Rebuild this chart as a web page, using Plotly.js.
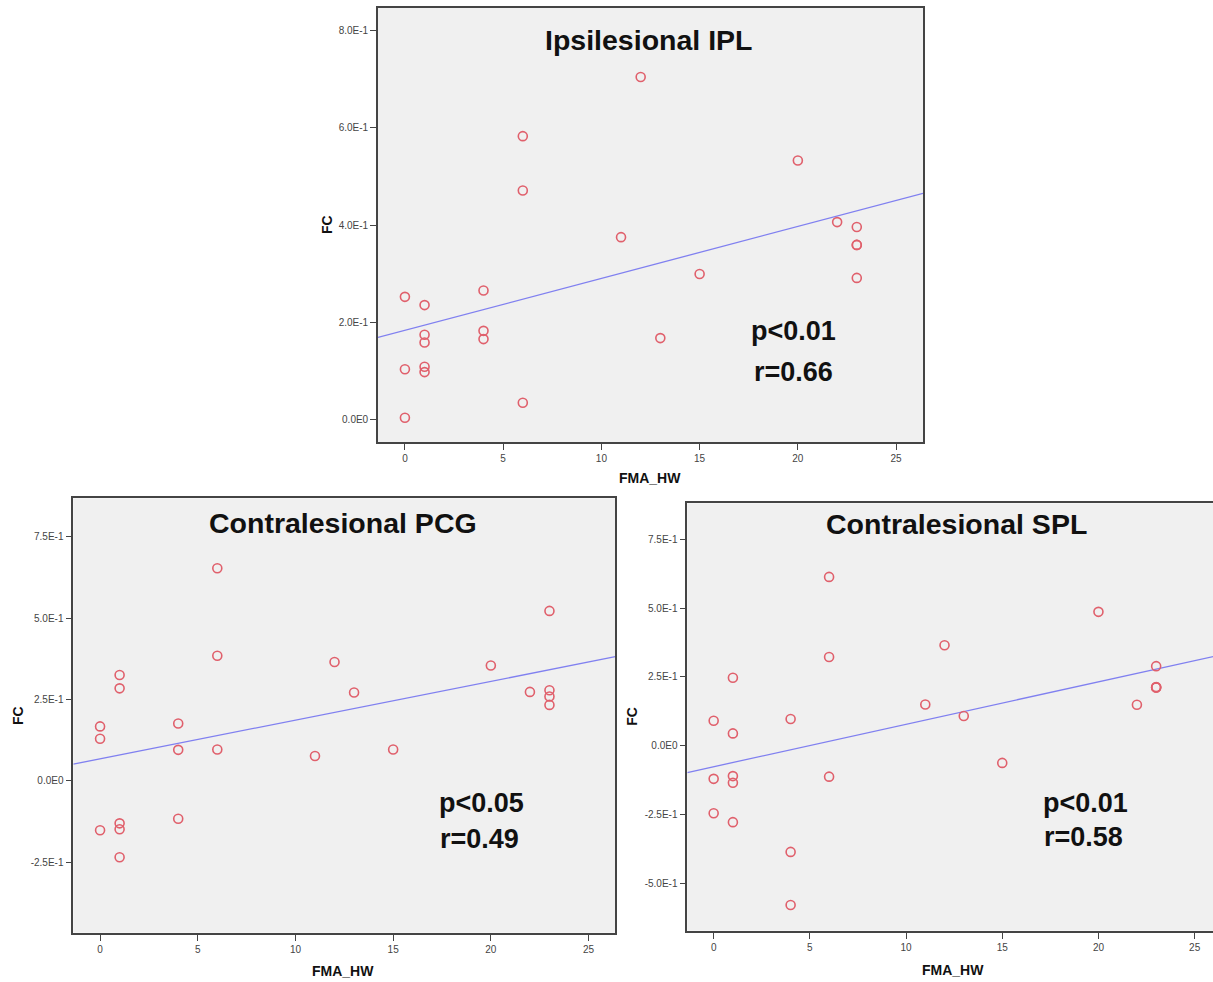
<!DOCTYPE html>
<html>
<head>
<meta charset="utf-8">
<script src="https://cdn.plot.ly/plotly-3.0.1.min.js"></script>
<style>
html,body{margin:0;padding:0;overflow:hidden;background:#fff;}
#chart{width:1225px;height:982px;}
</style>
</head>
<body>
<div id="chart"></div>
<script>
// ---------- data ----------
const fmaIPL = [0,0,0,1,1,1,1,1,4,4,4,6,6,6,11,12,13,15,20,22,23,23,23,23];
const fcIPL  = [0.252,0.103,0.003,0.235,0.174,0.158,0.108,0.097,0.265,0.182,0.165,0.583,0.471,0.034,0.375,0.705,0.167,0.299,0.533,0.406,0.396,0.359,0.359,0.291];

const fmaPCG = [0,0,0,1,1,1,1,1,4,4,4,6,6,6,11,12,13,15,20,22,23,23,23,23];
const fcPCG  = [0.167,0.129,-0.152,0.325,0.284,-0.131,-0.149,-0.235,0.176,0.095,-0.117,0.653,0.384,0.096,0.076,0.365,0.271,0.096,0.354,0.273,0.522,0.278,0.259,0.233];

const fmaSPL = [0,0,0,1,1,1,1,1,4,4,4,6,6,6,11,12,13,15,20,22,23,23,23,23];
const fcSPL  = [0.091,-0.120,-0.245,0.247,0.045,-0.110,-0.134,-0.277,0.097,-0.385,-0.578,0.613,0.322,-0.112,0.150,0.365,0.108,-0.062,0.486,0.149,0.289,0.212,0.212,0.213];

// fit lines (intercept, slope)
const fitIPL = [0.183, 0.0107];
const fitPCG = [0.0673, 0.0119];
const fitSPL = [-0.0759, 0.0154];

const panelTitles = ["Ipsilesional IPL", "Contralesional PCG", "Contralesional SPL"];
const pTexts = ["p<0.01", "p<0.05", "p<0.01"];
const rTexts = ["r=0.66", "r=0.49", "r=0.58"];

const xTickVals = [0,5,10,15,20,25];
const xTickText = ["0","5","10","15","20","25"];
const yTickValsIPL = [0,0.2,0.4,0.6,0.8];
const yTickTextIPL = ["0.0E0","2.0E-1","4.0E-1","6.0E-1","8.0E-1"];
const yTickValsPCG = [-0.25,0,0.25,0.5,0.75];
const yTickTextPCG = ["-2.5E-1","0.0E0","2.5E-1","5.0E-1","7.5E-1"];
const yTickValsSPL = [-0.5,-0.25,0,0.25,0.5,0.75];
const yTickTextSPL = ["-5.0E-1","-2.5E-1","0.0E0","2.5E-1","5.0E-1","7.5E-1"];

const xLabel = "FMA_HW";
const yLabel = "FC";

// ---------- layout helpers ----------
const W = 1225, H = 982;
const px = x => x / W;
const py = y => 1 - y / H;
const xRange = [-1.37, 26.37];

const markerStyle = {symbol:'circle-open', size:9, color:'#e0606c', line:{width:1.6, color:'#e0606c'}};
const lineStyle = {color:'#8080f0', width:1.3};

function scatter(xs, ys, xa, ya){
  return {x:xs, y:ys, xaxis:xa, yaxis:ya, type:'scatter', mode:'markers', marker:markerStyle, hoverinfo:'x+y', showlegend:false};
}
function fitLine(fit, xa, ya){
  const xs = [xRange[0], xRange[1]];
  return {x:xs, y:xs.map(v => fit[0] + fit[1]*v), xaxis:xa, yaxis:ya, type:'scatter', mode:'lines', line:lineStyle, hoverinfo:'skip', showlegend:false};
}

const data = [
  fitLine(fitIPL,'x','y'), scatter(fmaIPL, fcIPL, 'x', 'y'),
  fitLine(fitPCG,'x2','y2'), scatter(fmaPCG, fcPCG, 'x2', 'y2'),
  fitLine(fitSPL,'x3','y3'), scatter(fmaSPL, fcSPL, 'x3', 'y3')
];

const tickFont = {family:'Liberation Sans, Arial, sans-serif', size:10, color:'#444'};
function xaxis(domain, anchor){
  return {domain:domain, anchor:anchor, range:xRange, tickvals:xTickVals, ticktext:xTickText,
    ticks:'outside', ticklen:6, tickwidth:1.2, tickcolor:'#444', showline:true, mirror:true,
    linecolor:'#444', linewidth:1.6, showgrid:false, zeroline:false, tickfont:tickFont};
}
function yaxis(domain, anchor, range, vals, text){
  return {domain:domain, anchor:anchor, range:range, tickvals:vals, ticktext:text,
    ticks:'outside', ticklen:6, tickwidth:1.2, tickcolor:'#444', showline:true, mirror:true,
    linecolor:'#444', linewidth:1.6, showgrid:false, zeroline:false, tickfont:tickFont};
}

const boxes = [
  {l:378, r:923, t:8, b:442},
  {l:73.3, r:615.3, t:498.3, b:932.7},
  {l:687.3, r:1221, t:503.3, b:930.7}
];
const dom = b => ({x:[px(b.l), px(b.r)], y:[py(b.b), py(b.t)]});
const d1 = dom(boxes[0]), d2 = dom(boxes[1]), d3 = dom(boxes[2]);

const titleFont = {family:'Liberation Sans, Arial, sans-serif', size:28.5, color:'#111'};
const statFont = {family:'Liberation Sans, Arial, sans-serif', size:27, color:'#111'};
const labFont = {family:'Liberation Sans, Arial, sans-serif', size:14, color:'#111'};

function ann(text, x, y, font, extra){
  return Object.assign({text:'<b>'+text+'</b>', xref:'paper', yref:'paper', x:px(x), y:py(y),
    xanchor:'center', yanchor:'middle', showarrow:false, font:font}, extra||{});
}

const annotations = [
  ann(panelTitles[0], 648.5, 39.5, titleFont),
  ann(panelTitles[1], 343, 523.3, titleFont),
  ann(panelTitles[2], 956.7, 523.7, titleFont),
  ann(pTexts[0], 793.5, 330.8, statFont),
  ann(rTexts[0], 793.5, 372.2, statFont),
  ann(pTexts[1], 481, 802.5, statFont),
  ann(rTexts[1], 479.5, 839.2, statFont),
  ann(pTexts[2], 1085.3, 802.5, statFont),
  ann(rTexts[2], 1083, 837.2, statFont),
  ann(xLabel, 650, 478, labFont),
  ann(xLabel, 343, 971, labFont),
  ann(xLabel, 953, 970, labFont),
  ann(yLabel, 327, 225, labFont, {textangle:-90}),
  ann(yLabel, 18, 716, labFont, {textangle:-90}),
  ann(yLabel, 631.7, 716, labFont, {textangle:-90})
];

const layout = {
  width:W, height:H, margin:{l:0,r:0,t:0,b:0},
  paper_bgcolor:'#ffffff', plot_bgcolor:'#f0f0f0',
  showlegend:false,
  xaxis: xaxis(d1.x, 'y'),
  yaxis: yaxis(d1.y, 'x', [-0.047, 0.847], yTickValsIPL, yTickTextIPL),
  xaxis2: xaxis(d2.x, 'y2'),
  yaxis2: yaxis(d2.y, 'x2', [-0.467, 0.868], yTickValsPCG, yTickTextPCG),
  xaxis3: xaxis(d3.x, 'y3'),
  yaxis3: yaxis(d3.y, 'x3', [-0.671, 0.880], yTickValsSPL, yTickTextSPL),
  annotations: annotations
};

Plotly.newPlot('chart', data, layout, {displayModeBar:false});
</script>
</body>
</html>
